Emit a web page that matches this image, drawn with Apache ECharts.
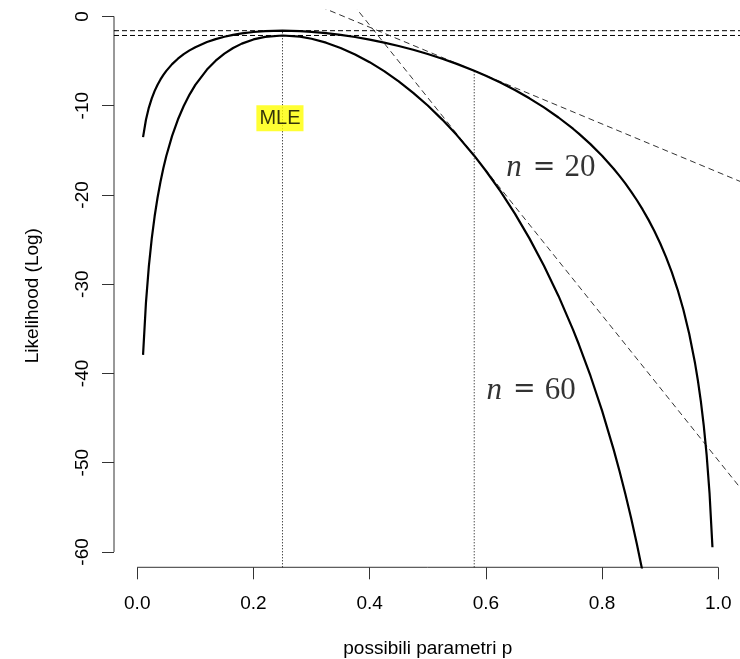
<!DOCTYPE html>
<html>
<head>
<meta charset="utf-8">
<script src="https://cdn.jsdelivr.net/npm/echarts@6/dist/echarts.min.js"></script>
<style>
  html, body { margin: 0; padding: 0; background: #fff; }
  #chart { width: 740px; height: 659px; }
</style>
</head>
<body>
<div id="chart"></div>
<script>
// Binomial log-likelihood curves (5 successes in 20 trials, 15 in 60)
const pValues = [
  0.01, 0.015, 0.02, 0.025, 0.03, 0.035, 0.04, 0.045, 0.05,
  0.06, 0.07, 0.08, 0.09, 0.10,
  0.12, 0.135, 0.15, 0.165, 0.18, 0.20,
  0.22, 0.25, 0.28, 0.30,
  0.325, 0.35, 0.375, 0.40,
  0.425, 0.45, 0.475, 0.50,
  0.525, 0.55, 0.58, 0.60,
  0.625, 0.65, 0.675, 0.70,
  0.725, 0.75, 0.76, 0.78, 0.80,
  0.82, 0.83, 0.84, 0.85, 0.86, 0.87, 0.88,
  0.89, 0.90, 0.91, 0.92, 0.93, 0.94, 0.95, 0.96,
  0.965, 0.97, 0.975, 0.98, 0.985, 0.99];
const logLik20 = [
  -13.528, -11.576, -10.214, -9.175, -8.341, -7.648, -7.058, -6.547, -6.099,
  -5.346, -4.736, -4.231, -3.806, -3.444,
  -2.870, -2.539, -2.275, -2.065, -1.902, -1.745,
  -1.649, -1.598, -1.644, -1.721,
  -1.866, -2.062, -2.305, -2.595,
  -2.930, -3.311, -3.739, -4.214,
  -4.740, -5.318, -6.087, -6.650,
  -7.414, -8.252, -9.175, -10.194,
  -11.324, -12.584, -13.130, -14.305, -15.608,
  -17.065, -17.862, -18.712, -19.621, -20.597, -21.651, -22.794,
  -24.043, -25.417, -26.942, -28.654, -30.603, -32.862, -35.544, -38.838,
  -40.815, -43.102, -45.811, -49.132, -53.422, -59.479];
const logLik60 = [
  -37.925, -32.071, -27.984, -24.868, -22.364, -20.284, -18.515, -16.983, -15.639,
  -13.381, -11.550, -10.033, -8.758, -7.675,
  -5.951, -4.958, -4.165, -3.537, -3.047, -2.578,
  -2.288, -2.135, -2.272, -2.505,
  -2.941, -3.528, -4.258, -5.127,
  -6.132, -7.275, -8.558, -9.984,
  -11.560, -13.295, -15.603, -17.291,
  -19.582, -22.099, -24.868, -27.924,
  -31.313, -35.093, -36.732, -40.258, -44.167,
  -48.538, -50.928, -53.477, -56.203, -59.132, -62.294, -65.725];

// maxima at the MLE and tangents at p = 0.58
const mleP = 0.25;
const maxLL20 = -1.598;
const maxLL60 = -2.135;
const tangentP = 0.58;
const tangentLL20 = -6.087;
const tangent20 = [[0.30, 1.499], [1.04, -18.550]];
const tangent60 = [[0.35, 3.092], [1.04, -52.992]];

// axis ranges and tick labels
const xRange = [-0.04, 1.04];
const yRange = [-61.72, 0.72];
const xTicks = [0, 0.2, 0.4, 0.6, 0.8, 1.0];
const yTicks = [-60, -50, -40, -30, -20, -10, 0];

const zip = (xs, ys) => ys.map((y, i) => [xs[i], y]);

function lineSeries(data, lineStyle, opts) {
  return Object.assign({
    type: 'line', data: data, symbol: 'none', silent: true,
    clip: true, lineStyle: lineStyle, z: 2
  }, opts || {});
}
function textSeries(point, label) {
  return {
    type: 'scatter', data: [point], symbolSize: 1, silent: true, z: 5,
    itemStyle: { color: 'rgba(0,0,0,0)' },
    label: Object.assign({ show: true, position: 'inside' }, label)
  };
}

const curve = { color: '#000', width: 2.2, join: 'round' };
const dashed = { color: '#000', width: 1, type: [5, 3] };
const slopeDashed = { color: '#333', width: 1, type: [6, 4] };
const dotted = { color: '#000', width: 1, type: [1, 2] };
const axisStroke = { color: '#333', width: 1 };

const nLabelRich = {
  n: { fontFamily: 'Liberation Serif', fontStyle: 'italic', fontSize: 31, color: '#000' },
  eq: { fontFamily: 'DejaVu Serif', fontSize: 27, color: '#000', padding: [0, 9, 0, 11] },
  v: { fontFamily: 'Liberation Serif', fontSize: 31, color: '#000' }
};

const chart = echarts.init(document.getElementById('chart'), null, { renderer: 'canvas' });
chart.setOption({
  animation: false,
  backgroundColor: '#fff',
  grid: {
    left: 114, top: 10, width: 627.5, height: 557.3,
    containLabel: false, outerBoundsMode: 'none'
  },
  xAxis: {
    type: 'value', min: xRange[0], max: xRange[1],
    splitLine: { show: false },
    axisLine: { show: false, onZero: false },
    axisTick: { show: true, length: 12, customValues: xTicks, lineStyle: axisStroke },
    axisLabel: {
      show: true, customValues: xTicks, margin: 27,
      formatter: v => v.toFixed(1),
      fontFamily: 'Liberation Sans', fontSize: 19, color: '#000'
    },
    name: 'possibili parametri p', nameLocation: 'middle', nameGap: 72,
    nameTextStyle: { fontFamily: 'Liberation Sans', fontSize: 19, color: '#000' }
  },
  yAxis: {
    type: 'value', min: yRange[0], max: yRange[1],
    splitLine: { show: false },
    axisLine: { show: false, onZero: false },
    axisTick: { show: true, length: 12, customValues: yTicks, lineStyle: axisStroke },
    axisLabel: {
      show: true, customValues: yTicks, margin: 22, rotate: 90,
      fontFamily: 'Liberation Sans', fontSize: 19, color: '#000'
    },
    name: 'Likelihood (Log)', nameLocation: 'middle', nameGap: 72, nameRotate: 90,
    nameTextStyle: { fontFamily: 'Liberation Sans', fontSize: 19, color: '#000', padding: [0, 14, 0, 0] }
  },
  series: [
    // axis lines spanning first to last tick
    lineSeries([[xTicks[0], yRange[0]], [xTicks[xTicks.length - 1], yRange[0]]], axisStroke, { clip: false }),
    lineSeries([[xRange[0], yTicks[0]], [xRange[0], yTicks[yTicks.length - 1]]], axisStroke, { clip: false }),
    // horizontal tangents at the maxima
    lineSeries([[xRange[0], maxLL20], [xRange[1], maxLL20]], dashed),
    lineSeries([[xRange[0], maxLL60], [xRange[1], maxLL60]], dashed),
    // tangents at p = 0.58
    lineSeries(tangent20, slopeDashed),
    lineSeries(tangent60, slopeDashed),
    // vertical guides
    lineSeries([[mleP, yRange[0]], [mleP, maxLL20]], dotted),
    lineSeries([[tangentP, yRange[0]], [tangentP, tangentLL20]], dotted),
    // likelihood curves
    lineSeries(zip(pValues, logLik20), curve, { z: 3 }),
    lineSeries(zip(pValues, logLik60), curve, { z: 3 }),
    // annotations
    textSeries([0.2456, -11.4], {
      formatter: 'MLE', fontFamily: 'Liberation Sans', fontSize: 20, color: '#000',
      backgroundColor: '#ffff00', padding: [4, 3, 2, 3]
    }),
    textSeries([0.712, -17.0], { formatter: '{n|n}{eq|=}{v|20}', rich: nLabelRich }),
    textSeries([0.678, -41.9], { formatter: '{n|n}{eq|=}{v|60}', rich: nLabelRich })
  ]
});
</script>
</body>
</html>
